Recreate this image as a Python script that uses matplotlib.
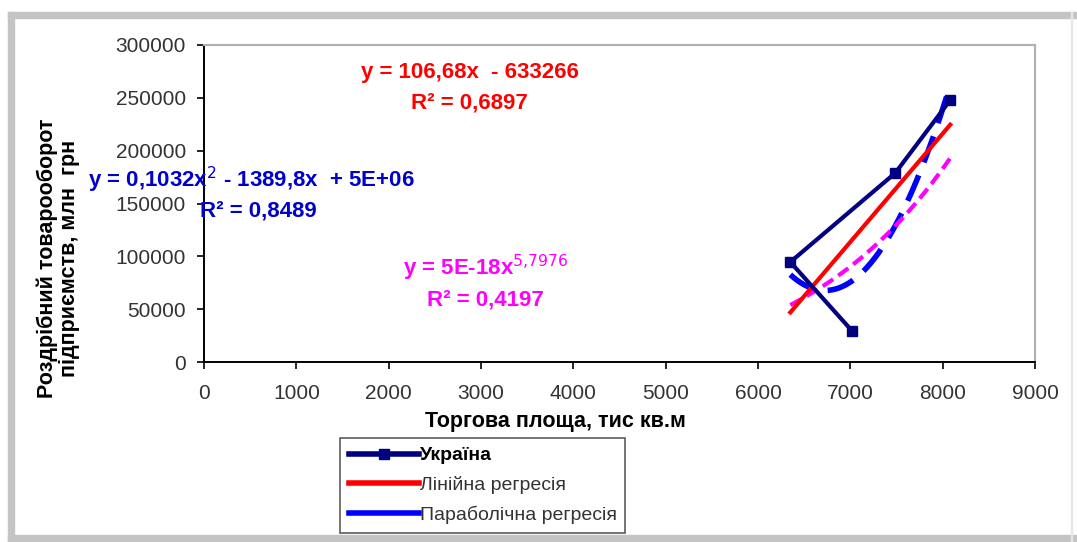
import numpy as np
import matplotlib.pyplot as plt
from matplotlib.patches import Rectangle

plt.rcParams['font.family'] = ['Liberation Sans', 'DejaVu Sans']

# Україна: торгова площа (тис кв.м) та роздрібний товарооборот (млн грн)
area = [7020, 6350, 7486, 8082]
turnover = [29300, 94600, 178800, 247900]

x_ticks = [0, 1000, 2000, 3000, 4000, 5000, 6000, 7000, 8000, 9000]
y_ticks = [0, 50000, 100000, 150000, 200000, 250000, 300000]

lin_eq = 'y = 106,68x  - 633266'
lin_r2 = 'R² = 0,6897'
par_eq = 'y = 0,1032x$^{2}$ - 1389,8x  + 5E+06'
par_r2 = 'R² = 0,8489'
pow_eq = 'y = 5E-18x$^{5{,}7976}$'
pow_r2 = 'R² = 0,4197'

x = np.array(area, dtype=float)
y = np.array(turnover, dtype=float)
xs = np.linspace(x.min(), x.max(), 200)
lin = np.polyval(np.polyfit(x, y, 1), xs)
par = np.polyval(np.polyfit(x, y, 2), xs)
b, lna = np.polyfit(np.log(x), np.log(y), 1)
pw = np.exp(lna) * xs ** b

fig = plt.figure(figsize=(10.77, 5.42), dpi=100)
ax = fig.add_axes([204/1077, 1-362/542, (1035-204)/1077, (362-45)/542])

l1, = ax.plot(x, y, color='#000080', lw=3, marker='s', ms=7, label='Україна', zorder=5)
l2, = ax.plot(xs, lin, color='#ff0000', lw=3, label='Лінійна регресія', zorder=4)
l3, = ax.plot(xs, par, color='#0000ff', lw=4, ls=(0, (5, 2.5)), label='Параболічна регресія', zorder=3)
ax.plot(xs, pw, color='#ff00ff', lw=3, ls=(0, (3, 1.5)), zorder=3)

ax.set_xlim(0, 9000)
ax.set_ylim(0, 300000)
ax.set_xticks(x_ticks)
ax.set_yticks(y_ticks)
ax.tick_params(labelsize=15, colors='black', labelcolor='#333333', length=5, width=1.2, direction='out', pad=8)
ax.xaxis.set_tick_params(pad=11)
for s in ['left', 'bottom']:
    ax.spines[s].set_linewidth(1.4)
for s in ['top', 'right']:
    ax.spines[s].set_color('#b0b0b0')
    ax.spines[s].set_linewidth(1.5)

fig.text(555/1077, 1-421/542, 'Торгова площа, тис кв.м', fontsize=15.5, fontweight='bold',
         ha='center', va='center')
fig.text(0.054, 1-258/542, 'Роздрібний товарооборот\nпідприємств, млн  грн', rotation=90,
         fontsize=15.5, fontweight='bold', ha='center', va='center', linespacing=1.05)

eq_kw = dict(fontsize=16, fontweight='bold', va='center')
ax.text(2880, 274000, lin_eq, color='#ff0000', ha='center', **eq_kw)
ax.text(2880, 245000, lin_r2, color='#ff0000', ha='center', **eq_kw)
fig.text(88/1077, 1-180/542, par_eq, color='#0000cc', **eq_kw)
fig.text(200/1077, 1-211/542, par_r2, color='#0000cc', **eq_kw)
ax.text(3045, 89000, pow_eq, color='#ff00ff', ha='center', **eq_kw)
ax.text(3045, 58700, pow_r2, color='#ff00ff', ha='center', **eq_kw)

leg = fig.legend(handles=[l1, l2, l3], loc='upper left', bbox_to_anchor=(340/1077, 1-438/542),
                 fontsize=14, frameon=True, fancybox=False, edgecolor='#333333',
                 handlelength=3.6, handletextpad=0.05, labelspacing=0.6, borderpad=0.45,
                 borderaxespad=0)
leg.get_frame().set_linewidth(1.2)
leg.get_texts()[0].set_fontweight('bold')
for t in leg.get_texts()[1:]:
    t.set_color('#333333')
for h in leg.legend_handles:
    h.set_linewidth(4)
    h.set_linestyle('-')

# gray frame around the chart
gray = '#c4c4c4'
fig.patches.append(Rectangle((8/1077, 1-18/542), 1 - 8/1077, 6/542, transform=fig.transFigure,
                             color=gray, zorder=10))
fig.patches.append(Rectangle((8/1077, 0), 6/1077, 1-12/542, transform=fig.transFigure,
                             color=gray, zorder=10))
fig.patches.append(Rectangle((8/1077, 0), 1 - 8/1077, 7/542, transform=fig.transFigure,
                             color=gray, zorder=10))
fig.patches.append(Rectangle((1071/1077, 0), 1/1077, 1-12/542, transform=fig.transFigure,
                             color='#e6e6e6', zorder=10))

fig.savefig('out.png', dpi=100)
